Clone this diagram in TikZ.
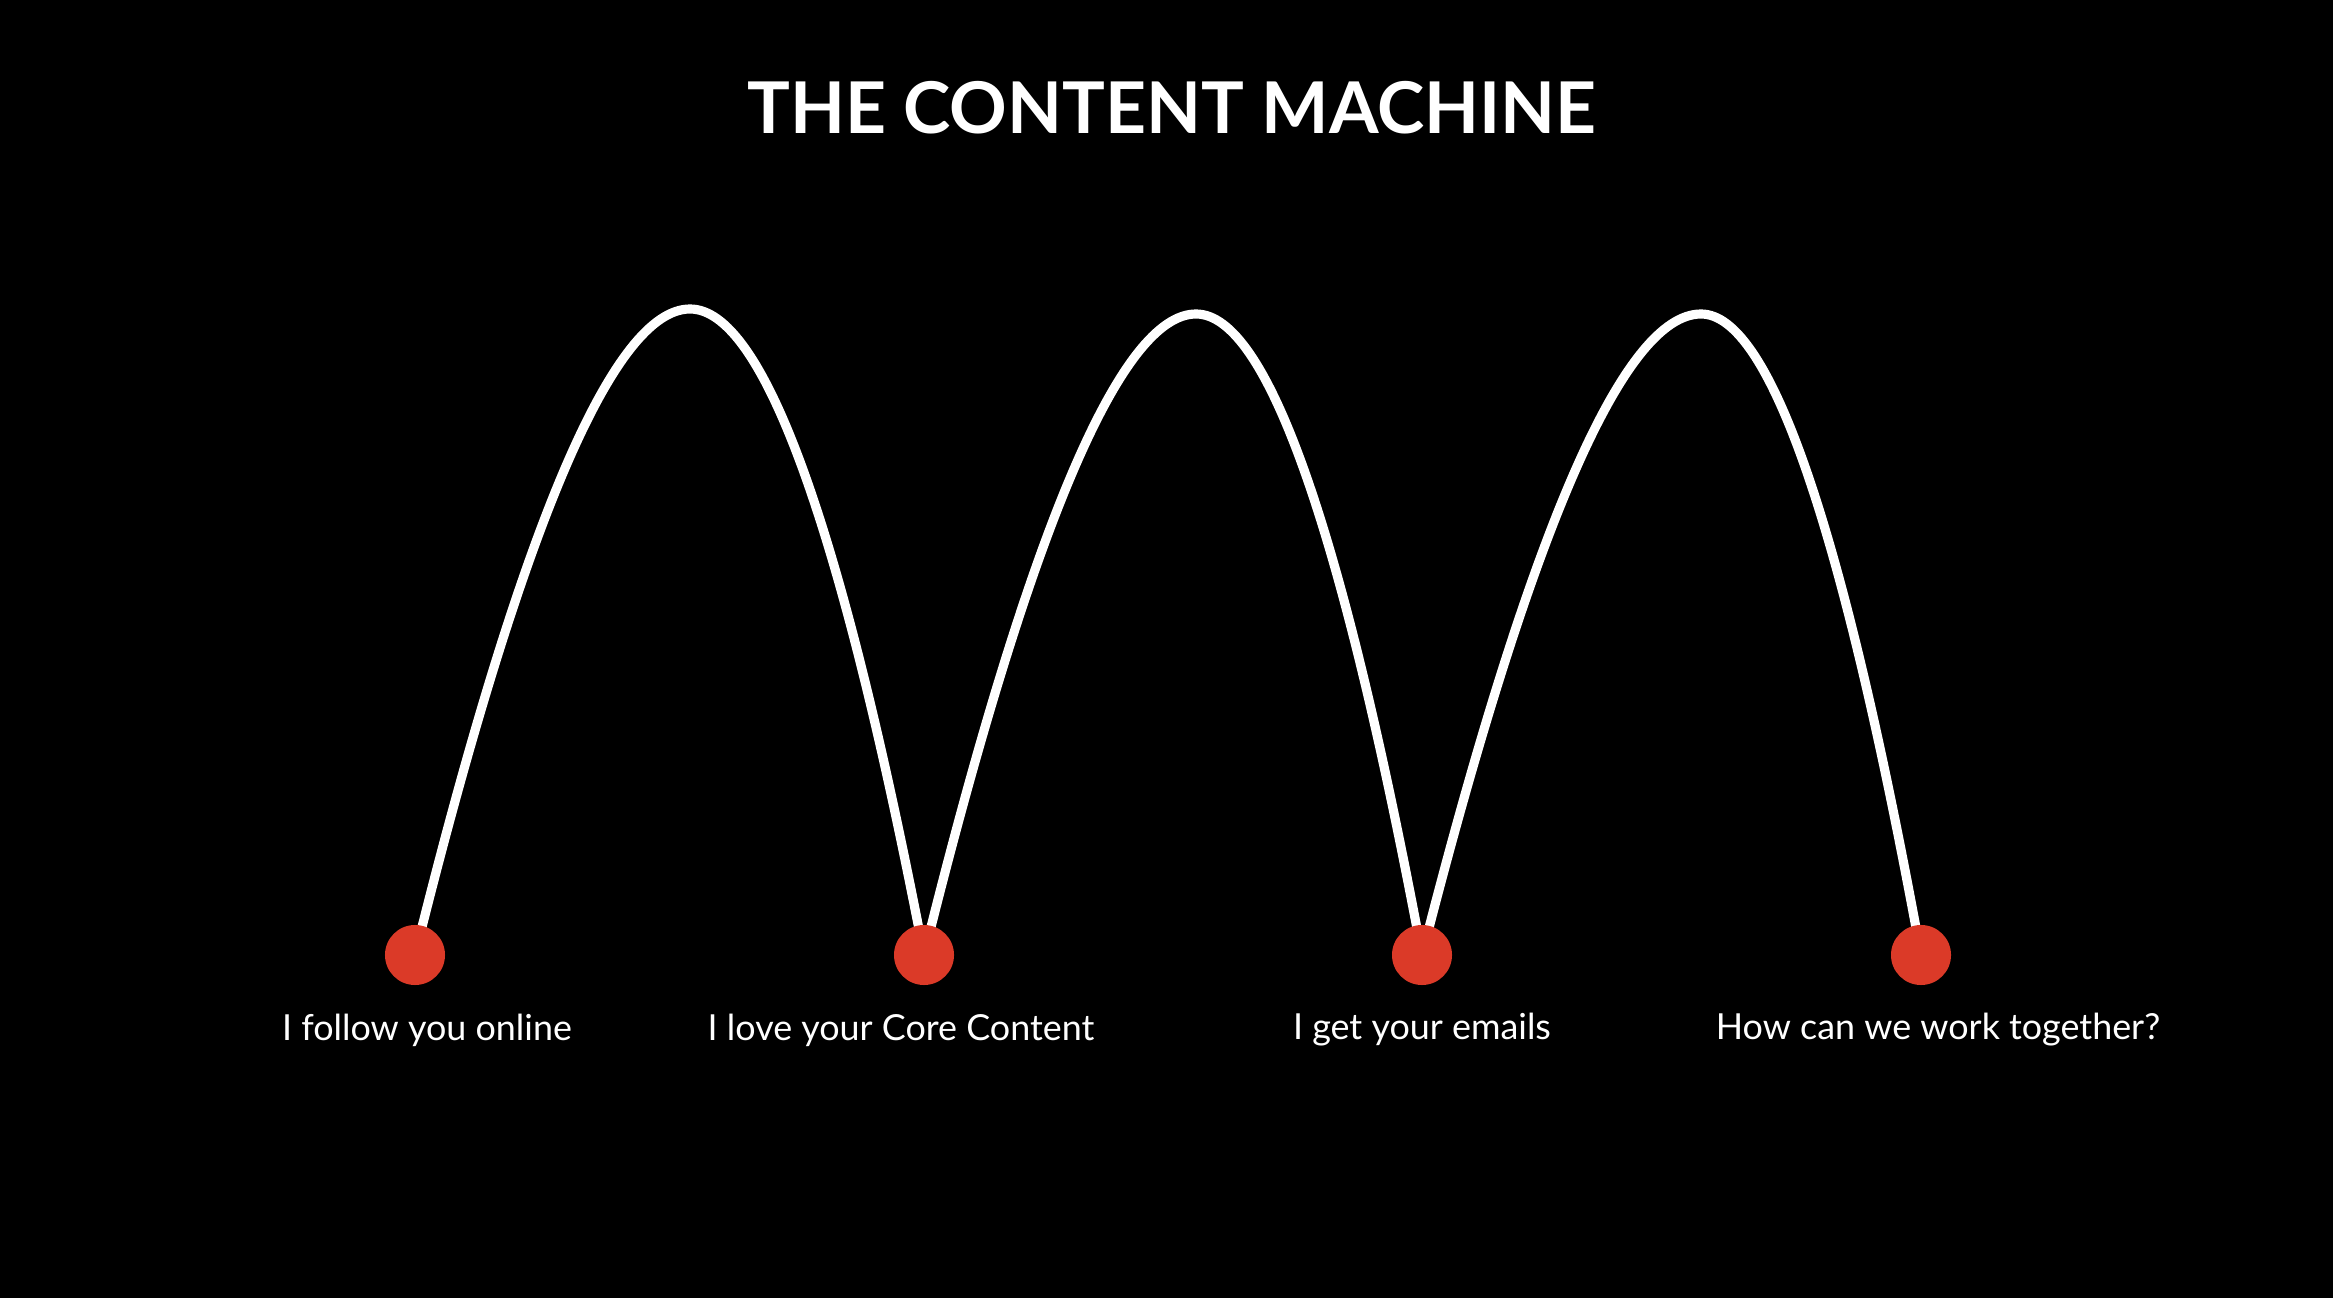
\documentclass[tikz,border=0pt]{standalone}
\usepackage{fontspec}
\setmainfont{Lato}
\usepackage{tikz}
\usetikzlibrary{positioning}

\definecolor{dotred}{RGB}{219,58,40}

\begin{document}
\begin{tikzpicture}[
    x=0.01cm, y=-0.01cm,
    dot/.style={circle, fill=dotred, minimum size=0.6cm, inner sep=0pt},
    caption/.style={text=white, font=\fontsize{10.2}{12}\selectfont, inner sep=0pt},
    hop/.style={white, line width=2.6pt}
]
  \fill[black] (0,0) rectangle (2333,1298);
  \useasboundingbox (0,0) rectangle (2333,1298);

  \node[text=white, font=\bfseries\fontsize{20.3}{24}\selectfont] (title)
    at (1172,108) {THE CONTENT MACHINE};

  % dot centres and arc tops
  \coordinate (d1) at (415,955);
  \coordinate (d2) at (924,955);
  \coordinate (d3) at (1422,955);
  \coordinate (d4) at (1921,955);
  \coordinate (p1) at (690,309);
  \coordinate (p2) at (1196,314);
  \coordinate (p3) at (1701,314);

  \draw[hop] (d1) .. controls +(107,-431) and +(-76,0) .. (p1)
                  .. controls +(73,0) and +(-83,-431) .. (d2);
  \draw[hop] (d2) .. controls +(106,-427) and +(-75,0) .. (p2)
                  .. controls +(71,0) and +(-80,-427) .. (d3);
  \draw[hop] (d3) .. controls +(109,-427) and +(-77,0) .. (p3)
                  .. controls +(69,0) and +(-78,-427) .. (d4);

  \node[dot] (s1) at (d1) {};
  \node[dot] (s2) at (d2) {};
  \node[dot] (s3) at (d3) {};
  \node[dot] (s4) at (d4) {};

  \node[caption] (c1) at (427,1030) {I follow you online};
  \node[caption] (c2) at (901,1030) {I love your Core Content};
  \node[caption] (c3) at (1422,1030) {I get your emails};
  \node[caption] (c4) at (1938,1030) {How can we work together?};
\end{tikzpicture}
\end{document}
